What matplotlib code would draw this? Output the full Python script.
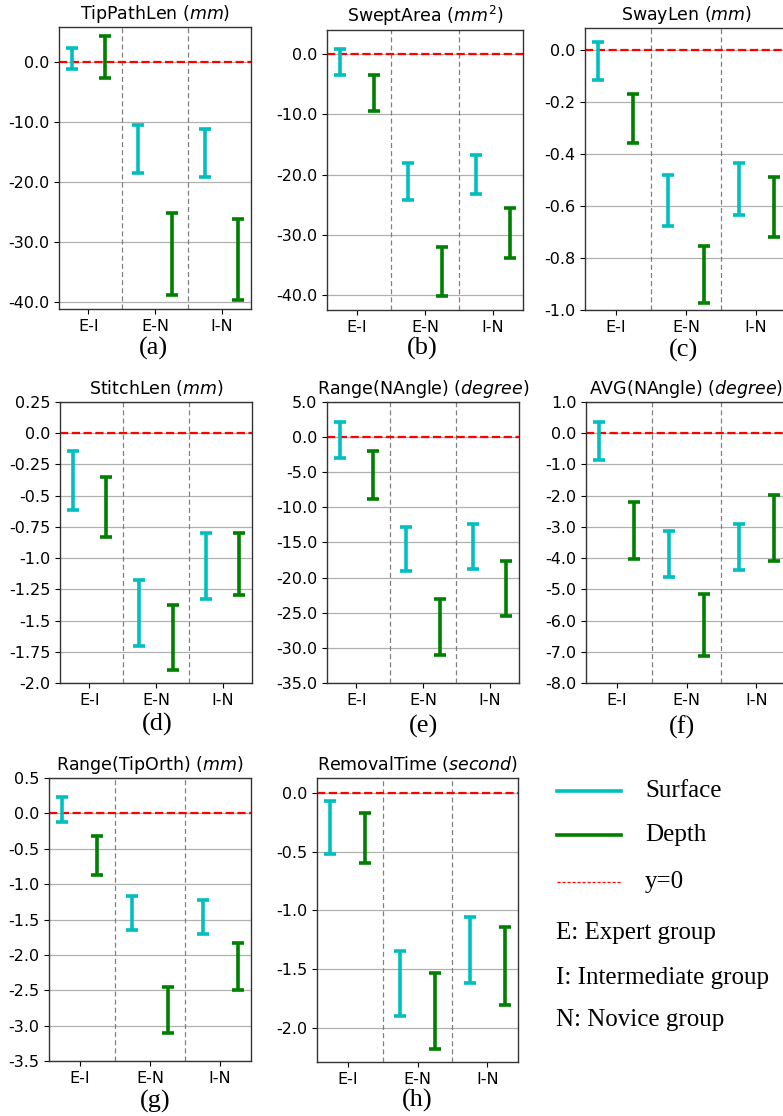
import matplotlib
matplotlib.use('Agg')
import matplotlib.pyplot as plt
from matplotlib.ticker import FuncFormatter, MultipleLocator

W, H = 783, 1116
plt.rcParams['font.family'] = ['DejaVu Sans']
plt.rcParams['axes.unicode_minus'] = False

categories = ['E-I', 'E-N', 'I-N']

titles = ['TipPathLen ($mm$)', 'SweptArea ($mm^2$)', 'SwayLen ($mm$)',
          'StitchLen ($mm$)', 'Range(NAngle) ($degree$)', 'AVG(NAngle) ($degree$)',
          'Range(TipOrth) ($mm$)', 'RemovalTime ($second$)']
panel_labels = ['(a)', '(b)', '(c)', '(d)', '(e)', '(f)', '(g)', '(h)']

# confidence intervals: upper / lower for Surface and Depth, per comparison
tip_surface_hi = [2.44, -10.4, -11.06]
tip_surface_lo = [-1.06, -18.5, -19.2]
tip_depth_hi = [4.44, -25.1, -26.2]
tip_depth_lo = [-2.6, -38.8, -39.7]

swept_surface_hi = [0.9, -18.1, -16.8]
swept_surface_lo = [-3.4, -24.3, -23.3]
swept_depth_hi = [-3.5, -32.0, -25.5]
swept_depth_lo = [-9.4, -40.2, -33.8]

sway_surface_hi = [0.033, -0.479, -0.435]
sway_surface_lo = [-0.116, -0.677, -0.636]
sway_depth_hi = [-0.167, -0.754, -0.488]
sway_depth_lo = [-0.355, -0.974, -0.718]

stitch_surface_hi = [-0.143, -1.178, -0.80]
stitch_surface_lo = [-0.617, -1.70, -1.324]
stitch_depth_hi = [-0.347, -1.374, -0.80]
stitch_depth_lo = [-0.834, -1.893, -1.298]

rangeang_surface_hi = [2.17, -12.86, -12.43]
rangeang_surface_lo = [-3.03, -19.1, -18.72]
rangeang_depth_hi = [-1.99, -23.07, -17.59]
rangeang_depth_lo = [-8.8, -30.97, -25.5]

avgang_surface_hi = [0.37, -3.14, -2.90]
avgang_surface_lo = [-0.85, -4.61, -4.37]
avgang_depth_hi = [-2.21, -5.15, -1.99]
avgang_depth_lo = [-4.02, -7.12, -4.08]

orth_surface_hi = [0.236, -1.165, -1.222]
orth_surface_lo = [-0.127, -1.646, -1.698]
orth_depth_hi = [-0.325, -2.448, -1.83]
orth_depth_lo = [-0.877, -3.099, -2.5]

removal_surface_hi = [-0.071, -1.349, -1.053]
removal_surface_lo = [-0.515, -1.90, -1.616]
removal_depth_hi = [-0.174, -1.536, -1.144]
removal_depth_lo = [-0.592, -2.176, -1.806]

panels_data = [
    (tip_surface_hi, tip_surface_lo, tip_depth_hi, tip_depth_lo),
    (swept_surface_hi, swept_surface_lo, swept_depth_hi, swept_depth_lo),
    (sway_surface_hi, sway_surface_lo, sway_depth_hi, sway_depth_lo),
    (stitch_surface_hi, stitch_surface_lo, stitch_depth_hi, stitch_depth_lo),
    (rangeang_surface_hi, rangeang_surface_lo, rangeang_depth_hi, rangeang_depth_lo),
    (avgang_surface_hi, avgang_surface_lo, avgang_depth_hi, avgang_depth_lo),
    (orth_surface_hi, orth_surface_lo, orth_depth_hi, orth_depth_lo),
    (removal_surface_hi, removal_surface_lo, removal_depth_hi, removal_depth_lo),
]

ylims = [(-41.2, 5.9), (-42.5, 4.0), (-1.0, 0.086), (-2.0, 0.25),
         (-35.0, 5.0), (-8.0, 1.0), (-3.5, 0.5), (-2.29, 0.128)]
ysteps = [10, 10, 0.2, 0.25, 5, 1, 0.5, 0.5]

# axes boxes in pixels: left, right, top, bottom
boxes = [(59, 251, 27, 309), (327, 523, 30, 310), (585, 787, 28, 310),
         (60, 252, 402, 683), (327, 519, 402, 683), (586, 787, 402, 683),
         (49, 251, 778, 1061), (317, 518, 778, 1062)]
label_pos = [(153, 348), (422, 348), (683, 350),
             (157, 724), (423, 726), (682, 727),
             (155, 1101), (417, 1100)]

surface_color = '#00bfbf'
depth_color = '#008000'

fig = plt.figure(figsize=(W / 100, H / 100), dpi=100)

fmt = FuncFormatter(lambda v, p: str(round(v, 2) + 0.0))

for i in range(8):
    l, r, t, b = boxes[i]
    ax = fig.add_axes([l / W, 1 - b / H, (r - l) / W, (b - t) / H])
    s_hi, s_lo, d_hi, d_lo = panels_data[i]
    xs = [k - 0.25 for k in range(3)]
    xd = [k + 0.25 for k in range(3)]
    s_mid = [(a + c) / 2 for a, c in zip(s_hi, s_lo)]
    s_err = [(a - c) / 2 for a, c in zip(s_hi, s_lo)]
    d_mid = [(a + c) / 2 for a, c in zip(d_hi, d_lo)]
    d_err = [(a - c) / 2 for a, c in zip(d_hi, d_lo)]
    ax.errorbar(xs, s_mid, yerr=s_err, fmt='none', ecolor=surface_color,
                elinewidth=2.6, capsize=4.2, capthick=2.6, zorder=3)
    ax.errorbar(xd, d_mid, yerr=d_err, fmt='none', ecolor=depth_color,
                elinewidth=2.6, capsize=4.2, capthick=2.6, zorder=3)
    ax.axhline(0, color='red', ls='--', lw=1.6, zorder=2)
    for sx in (0.5, 1.5):
        ax.axvline(sx, color='gray', ls=(0, (4, 2.5)), lw=0.9, zorder=1)
    ax.set_xlim(-0.44, 2.44)
    ax.set_ylim(*ylims[i])
    ax.yaxis.set_major_locator(MultipleLocator(ysteps[i]))
    ax.yaxis.set_major_formatter(fmt)
    ax.set_xticks(range(3))
    ax.set_xticklabels(categories)
    ax.yaxis.grid(True, color='#b0b0b0', lw=0.9)
    ax.set_axisbelow(True)
    ax.tick_params(labelsize=11.5, length=3.5, width=0.8, colors='black')
    for sp in ax.spines.values():
        sp.set_color('#333333')
        sp.set_linewidth(1.0)
    ax.set_title(titles[i], fontsize=12.5, pad=6)
    lx, ly = label_pos[i]
    fig.text(lx / W, 1 - ly / H, panel_labels[i], ha='center', va='center',
             fontsize=19, family='Liberation Serif')

# legend panel
lax = fig.add_axes([530 / W, 0, (W - 530) / W, 376 / H])
lax.set_xlim(530, W)
lax.set_ylim(1116, 740)
lax.axis('off')
legend_labels = ['Surface', 'Depth', 'y=0']
legend_y = [791, 835, 882]
lax.plot([557, 621], [legend_y[0]] * 2, color=surface_color, lw=2.6)
lax.plot([557, 621], [legend_y[1]] * 2, color=depth_color, lw=2.6)
lax.plot([557, 621], [legend_y[2]] * 2, color='red', lw=0.9, ls=(0, (2.5, 1.5)))
for lab, yy in zip(legend_labels, legend_y):
    lax.text(645, yy, lab, ha='left', va='center', fontsize=18,
             family='Liberation Serif')
group_texts = ['E: Expert group', 'I: Intermediate group', 'N: Novice group']
group_y = [933, 978, 1020]
for txt, yy in zip(group_texts, group_y):
    lax.text(556, yy, txt, ha='left', va='center', fontsize=18,
             family='Liberation Serif')

fig.savefig('out.png', dpi=100)
